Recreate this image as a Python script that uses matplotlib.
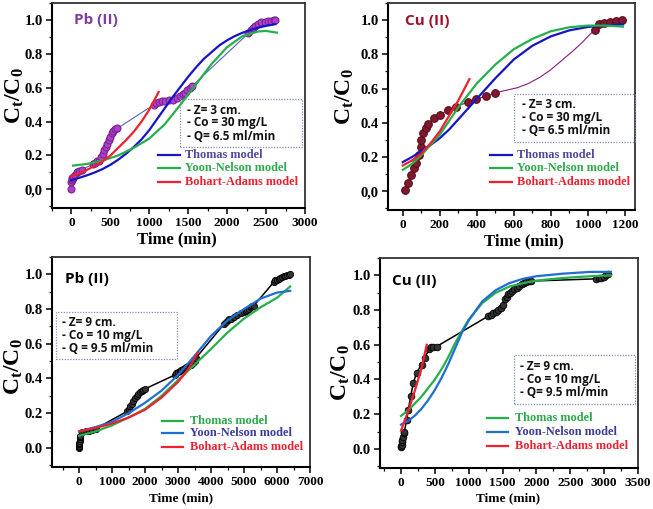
import numpy as np
import matplotlib
matplotlib.use("Agg")
import matplotlib.pyplot as plt
from matplotlib.patches import Rectangle
from matplotlib.lines import Line2D
from matplotlib.ticker import MultipleLocator

plt.rcParams['mathtext.fontset'] = 'custom'
plt.rcParams['mathtext.rm'] = 'Liberation Serif'
plt.rcParams['mathtext.it'] = 'Liberation Serif:italic'
plt.rcParams['mathtext.bf'] = 'Liberation Serif:bold'

SERIF = 'Liberation Serif'
SANS = 'Open Sans'

# ---------------- data: Pb(II), Z = 3 cm ----------------
pb3_t = [0, 0, 5, 10, 15, 20, 40, 70, 100, 130, 280, 300, 330, 350, 380, 400, 420, 440,
         460, 480, 500, 520, 540, 560, 590, 1060, 1090, 1120, 1160, 1200, 1250, 1300,
         1350, 1400, 1430, 1460, 1490, 1520, 1550, 2270, 2300, 2330, 2360, 2400, 2440,
         2480, 2520, 2560, 2600, 2620]
pb3_c = [0.0, 0.045, 0.055, 0.065, 0.07, 0.075, 0.085, 0.10, 0.11, 0.115, 0.15, 0.155,
         0.165, 0.17, 0.19, 0.21, 0.23, 0.25, 0.27, 0.29, 0.31, 0.33, 0.345, 0.355, 0.36,
         0.50, 0.51, 0.515, 0.52, 0.52, 0.525, 0.53, 0.54, 0.55, 0.56, 0.57, 0.585, 0.60,
         0.61, 0.92, 0.94, 0.955, 0.965, 0.975, 0.985, 0.99, 0.995, 0.995, 1.0, 1.0]
pb3_thomas_t = [0, 100, 200, 300, 400, 500, 600, 700, 800, 900, 1000, 1100, 1200, 1300,
                1400, 1500, 1600, 1700, 1800, 1900, 2000, 2100, 2200, 2300, 2400, 2500, 2620]
pb3_thomas_c = [0.055, 0.068, 0.083, 0.10, 0.12, 0.145, 0.175, 0.21, 0.25, 0.295, 0.35,
                0.415, 0.48, 0.545, 0.605, 0.665, 0.72, 0.77, 0.81, 0.85, 0.88, 0.905, 0.925,
                0.94, 0.955, 0.965, 0.975]
pb3_yn_t = [20, 200, 400, 600, 800, 1000, 1200, 1400, 1600, 1800, 2000, 2200, 2400, 2500, 2640]
pb3_yn_c = [0.14, 0.15, 0.17, 0.20, 0.245, 0.30, 0.385, 0.50, 0.62, 0.74, 0.84, 0.905,
            0.932, 0.935, 0.925]
pb3_ba_t = [0, 100, 200, 300, 400, 500, 600, 700, 800, 900, 1000, 1120]
pb3_ba_c = [0.075, 0.095, 0.115, 0.14, 0.165, 0.20, 0.245, 0.29, 0.34, 0.40, 0.47, 0.575]

# ---------------- data: Cu(II), Z = 3 cm ----------------
cu3_t = [14, 27, 45, 60, 72, 85, 96, 100, 108, 123, 135, 168, 199, 244, 289, 352, 397,
         451, 500, 1040, 1060, 1090, 1120, 1150, 1185]
cu3_c = [0.005, 0.05, 0.095, 0.135, 0.165, 0.21, 0.26, 0.30, 0.34, 0.37, 0.39, 0.43,
         0.445, 0.475, 0.495, 0.52, 0.54, 0.555, 0.575, 0.945, 0.975, 0.985, 0.99, 0.995, 1.0]
cu3_link_t = [500, 560, 620, 680, 740, 800, 860, 920, 970, 1010, 1040]
cu3_link_c = [0.575, 0.59, 0.605, 0.63, 0.665, 0.71, 0.765, 0.82, 0.87, 0.915, 0.945]
cu3_thomas_t = [0, 50, 100, 150, 200, 250, 300, 350, 400, 500, 600, 700, 800, 900, 1000, 1100, 1190]
cu3_thomas_c = [0.17, 0.20, 0.235, 0.27, 0.31, 0.36, 0.42, 0.48, 0.54, 0.66, 0.77, 0.85,
                0.905, 0.94, 0.96, 0.97, 0.975]
cu3_yn_t = [0, 50, 100, 150, 200, 250, 300, 350, 400, 500, 600, 700, 800, 900, 1000, 1100, 1190]
cu3_yn_c = [0.125, 0.16, 0.21, 0.27, 0.33, 0.41, 0.49, 0.56, 0.63, 0.74, 0.83, 0.89,
            0.935, 0.958, 0.968, 0.968, 0.962]
cu3_ba_t = [0, 50, 100, 150, 200, 250, 300, 360]
cu3_ba_c = [0.15, 0.18, 0.22, 0.28, 0.35, 0.44, 0.53, 0.655]

# ---------------- data: Pb(II), Z = 9 cm ----------------
pb9_t = [0, 0, 5, 10, 10, 15, 20, 25, 30, 40, 100, 200, 300, 400, 500, 1450, 1500, 1550,
         1600, 1650, 1700, 1750, 1800, 1850, 1900, 1950, 2000, 2900, 2950, 3000, 3050, 3100,
         3150, 3200, 3250, 3300, 3350, 3400, 3450, 3500, 3550, 4400, 4450, 4500, 4550, 4600,
         4700, 4800, 4900, 5000, 5050, 5100, 5150, 5200, 5250, 5300, 5900, 5950, 6000, 6050,
         6100, 6150, 6200, 6250, 6300, 6350, 6400]
pb9_c = [0.0, 0.005, 0.01, 0.02, 0.03, 0.04, 0.05, 0.06, 0.065, 0.07, 0.09, 0.095, 0.10,
         0.105, 0.11, 0.21, 0.225, 0.24, 0.255, 0.27, 0.285, 0.30, 0.31, 0.32, 0.33, 0.335,
         0.34, 0.42, 0.43, 0.44, 0.445, 0.45, 0.455, 0.46, 0.465, 0.47, 0.475, 0.48, 0.49,
         0.50, 0.52, 0.715, 0.725, 0.735, 0.74, 0.745, 0.755, 0.765, 0.775, 0.785, 0.79,
         0.795, 0.80, 0.81, 0.815, 0.82, 0.955, 0.965, 0.97, 0.975, 0.98, 0.985, 0.99, 0.99,
         0.995, 0.995, 1.0]
pb9_thomas_t = [0, 500, 1000, 1500, 2000, 2500, 3000, 3500, 4000, 4500, 5000, 5500, 6000, 6400]
pb9_thomas_c = [0.07, 0.095, 0.13, 0.175, 0.225, 0.30, 0.39, 0.48, 0.57, 0.665, 0.745,
                0.81, 0.865, 0.93]
pb9_yn_t = [0, 500, 1000, 1500, 2000, 2500, 3000, 3500, 4000, 4500, 5000, 5500, 6000, 6400]
pb9_yn_c = [0.095, 0.12, 0.15, 0.20, 0.26, 0.33, 0.42, 0.53, 0.645, 0.735, 0.80, 0.86,
            0.895, 0.905]
pb9_ba_t = [0, 500, 1000, 1500, 2000, 2500, 3000, 3300, 3600]
pb9_ba_c = [0.095, 0.115, 0.14, 0.175, 0.22, 0.29, 0.38, 0.45, 0.55]

# ---------------- data: Cu(II), Z = 9 cm ----------------
cu9_t = [0, 5, 10, 15, 20, 30, 40, 50, 84, 108, 143, 182, 231, 305, 354, 413, 450, 477,
         526, 1288, 1330, 1362, 1400, 1436, 1470, 1500, 1534, 1560, 1583, 1610, 1632, 1670,
         1706, 1740, 1780, 1820, 1853, 1890, 1927, 2886, 2930, 2960, 3000, 3033, 3060]
cu9_c = [0.01, 0.015, 0.02, 0.04, 0.05, 0.07, 0.09, 0.10, 0.168, 0.225, 0.302, 0.38, 0.44,
         0.486, 0.524, 0.576, 0.585, 0.59, 0.59, 0.765, 0.77, 0.784, 0.79, 0.803, 0.81,
         0.827, 0.861, 0.875, 0.89, 0.90, 0.91, 0.92, 0.93, 0.94, 0.948, 0.955, 0.963,
         0.965, 0.967, 0.98, 0.982, 0.986, 0.99, 1.0, 1.005]
cu9_thomas_t = [0, 100, 200, 300, 400, 500, 600, 700, 800, 900, 1000, 1200, 1400, 1600,
                1800, 2000, 2400, 2800, 3100]
cu9_thomas_c = [0.19, 0.22, 0.26, 0.30, 0.35, 0.40, 0.46, 0.53, 0.61, 0.68, 0.745, 0.84,
                0.90, 0.935, 0.955, 0.97, 0.985, 0.995, 1.0]
cu9_yn_t = [0, 100, 200, 300, 400, 500, 600, 700, 800, 900, 1000, 1200, 1400, 1600, 1800,
            2000, 2400, 2800, 3100]
cu9_yn_c = [0.14, 0.16, 0.19, 0.23, 0.28, 0.34, 0.41, 0.49, 0.58, 0.67, 0.74, 0.85, 0.915,
            0.955, 0.98, 0.995, 1.01, 1.02, 1.02]
cu9_ba_t = [0, 100, 200, 300, 380]
cu9_ba_c = [0.105, 0.21, 0.33, 0.46, 0.60]

ytick_vals = [0.0, 0.2, 0.4, 0.6, 0.8, 1.0]
ytick_top = ['0,0', '0.2', '0.4', '0.6', '0.8', '1.0']
ytick_bottom = ['0.0', '0.2', '0.4', '0.6', '0.8', '1.0']
model_names = ['Thomas model', 'Yoon-Nelson model', 'Bohart-Adams model']

W, H = 653, 509
fig = plt.figure(figsize=(W / 100, H / 100), dpi=100)


def px_axes(l, t, r, b):
    return fig.add_axes([l / W, 1 - b / H, (r - l) / W, (b - t) / H])


def fx(x):
    return x / W


def fy(y):
    return 1 - y / H


def style_axes(ax, xlim, xmaj, xlabel_size, ylabels, xlab_pos, ylab_pos):
    ax.set_xlim(*xlim)
    ax.set_ylim(-0.11, 1.1)
    ax.xaxis.set_major_locator(MultipleLocator(xmaj))
    ax.xaxis.set_minor_locator(MultipleLocator(xmaj / 2))
    ax.set_yticks(ytick_vals)
    ax.set_yticklabels(ylabels)
    ax.yaxis.set_minor_locator(MultipleLocator(0.1))
    ax.tick_params(which='major', direction='out', length=4, width=1.1, pad=2.5)
    ax.tick_params(axis='x', labelsize=9.5)
    ax.tick_params(axis='y', labelsize=10.5)
    ax.tick_params(which='minor', direction='out', length=2.5, width=0.9)
    for lab in ax.get_xticklabels() + ax.get_yticklabels():
        lab.set_fontfamily(SERIF)
        lab.set_fontweight('bold')
    for s in ['left', 'bottom']:
        ax.spines[s].set_linewidth(1.5)
        ax.spines[s].set_color('black')
    for s in ['top', 'right']:
        ax.spines[s].set_linewidth(1.3)
        ax.spines[s].set_color('#333333')
    ax.set_xlabel('Time (min)', fontfamily=SERIF, fontweight='bold', fontsize=xlabel_size)
    ax.set_ylabel(r'$\mathbf{C_t/C_0}$', fontsize=17)
    ax.xaxis.label.set_va('center')
    ax.yaxis.label.set_va('center')
    ax.xaxis.set_label_coords(*xlab_pos)
    ax.yaxis.set_label_coords(*ylab_pos)


def info_box(box, lines, tx, ty):
    l, t, r, b = box
    fig.patches.append(Rectangle((fx(l), fy(b)), (r - l) / W, (b - t) / H,
                                 transform=fig.transFigure, fill=False,
                                 edgecolor='#7f8fb5', linestyle=(0, (1, 1.2)), lw=0.9))
    for line, y in zip(lines, ty):
        fig.text(fx(tx), fy(y), line, fontfamily=SANS, fontweight='bold', fontsize=8.5,
                 va='center', ha='left', color='#111111')


def legend_rows(x0, x1, xt, ys, line_colors, text_colors):
    for name, y, lc, tc in zip(model_names, ys, line_colors, text_colors):
        fig.lines.append(Line2D([fx(x0), fx(x1)], [fy(y), fy(y)], transform=fig.transFigure,
                                color=lc, lw=1.6))
        fig.text(fx(xt), fy(y), name, fontfamily=SERIF, fontweight='bold', fontsize=8.8,
                 va='center', ha='left', color=tc)


BLUE = '#1515c8'
GREEN = '#25b04c'
RED = '#f0202c'
BLUE2 = '#1f6ed4'

# ---- panel 1: Pb(II) Z=3 ----
ax1 = px_axes(52, 3, 305, 208)
ax1.plot(pb3_t, pb3_c, color='#5a64b4', lw=0.8, zorder=2)
ax1.plot(pb3_t, pb3_c, 'o', ms=5, mfc='#b040c8', mec='#7a2494', mew=0.8, zorder=3)
ax1.plot(pb3_thomas_t, pb3_thomas_c, color=BLUE, lw=1.6, zorder=4)
ax1.plot(pb3_yn_t, pb3_yn_c, color=GREEN, lw=1.6, zorder=4)
ax1.plot(pb3_ba_t, pb3_ba_c, color=RED, lw=1.6, zorder=4)
style_axes(ax1, (-250, 3000), 500, 12, ytick_top, (0.494, -0.155), (-0.15, 0.55))
ax1.text(0.085, 0.915, 'Pb (II)', transform=ax1.transAxes, fontfamily=SANS,
         fontweight='bold', fontsize=11, color='#7b3f9e', va='center')
info_box((180, 99, 302, 147), ['- Z= 3 cm.', '- Co = 30 mg/L', '- Q= 6.5 ml/min'],
         187, [110, 123, 136])
legend_rows(158, 180, 185, [155, 168, 182], [BLUE, GREEN, RED],
            ['#4a4a9a', '#2aaa4a', '#ee2030'])

# ---- panel 2: Cu(II) Z=3 ----
ax2 = px_axes(388, 3, 635, 210)
ax2.plot(cu3_t[:19], cu3_c[:19], color='#8a1a7a', lw=0.8, zorder=2)
ax2.plot(cu3_link_t, cu3_link_c, color='#8a1a7a', lw=0.8, zorder=2)
ax2.plot(cu3_t[19:], cu3_c[19:], color='#8a1a7a', lw=0.8, zorder=2)
ax2.plot(cu3_t, cu3_c, 'o', ms=5.5, mfc='#82182c', mec='#5a0c1a', mew=0.8, zorder=3)
ax2.plot(cu3_thomas_t, cu3_thomas_c, color=BLUE, lw=1.6, zorder=4)
ax2.plot(cu3_yn_t, cu3_yn_c, color=GREEN, lw=1.6, zorder=4)
ax2.plot(cu3_ba_t, cu3_ba_c, color=RED, lw=1.6, zorder=4)
style_axes(ax2, (-80, 1255), 200, 12, ytick_top, (0.55, -0.15), (-0.18, 0.546))
ax2.text(0.07, 0.915, 'Cu (II)', transform=ax2.transAxes, fontfamily=SANS,
         fontweight='bold', fontsize=11, color='#a0102a', va='center')
info_box((514, 94, 635, 142), ['- Z= 3 cm.', '- Co = 30 mg/L', '- Q= 6.5 ml/min'],
         522, [105, 118, 131])
legend_rows(490, 512, 517, [155, 168, 182], [BLUE, GREEN, RED],
            ['#4a4a9a', '#2aaa4a', '#ee2030'])

# ---- panel 3: Pb(II) Z=9 ----
ax3 = px_axes(52, 257, 310, 467)
ax3.plot(pb9_t, pb9_c, color='black', lw=1.1, zorder=2)
ax3.plot(pb9_t, pb9_c, 'o', ms=4.5, mfc='#333333', mec='black', mew=0.6, zorder=3)
ax3.plot(pb9_thomas_t, pb9_thomas_c, color=GREEN, lw=1.6, zorder=4)
ax3.plot(pb9_yn_t, pb9_yn_c, color=BLUE2, lw=1.6, zorder=4)
ax3.plot(pb9_ba_t, pb9_ba_c, color=RED, lw=1.6, zorder=4)
style_axes(ax3, (-820, 7000), 1000, 9.5, ytick_bottom, (0.5, -0.148), (-0.15, 0.476))
ax3.text(0.05, 0.895, 'Pb (II)', transform=ax3.transAxes, fontfamily=SANS,
         fontweight='bold', fontsize=11, color='black', va='center')
info_box((56, 312, 177, 359), ['- Z= 9 cm.', '- Co = 10 mg/L', '- Q = 9.5 ml/min'],
         62, [323, 336, 349])
legend_rows(162, 183, 190, [421, 433, 447], [GREEN, BLUE2, RED],
            ['#2aaa4a', '#3a3a9a', '#ee2030'])

# ---- panel 4: Cu(II) Z=9 ----
ax4 = px_axes(380, 258, 638, 468)
ax4.plot(cu9_t, cu9_c, color='black', lw=1.1, zorder=2)
ax4.plot(cu9_t, cu9_c, 'o', ms=4.8, mfc='#333333', mec='black', mew=0.6, zorder=3)
ax4.plot(cu9_thomas_t, cu9_thomas_c, color=GREEN, lw=1.6, zorder=4)
ax4.plot(cu9_yn_t, cu9_yn_c, color=BLUE2, lw=1.6, zorder=4)
ax4.plot(cu9_ba_t, cu9_ba_c, color=RED, lw=1.6, zorder=4)
style_axes(ax4, (-310, 3500), 500, 9.5, ytick_bottom, (0.496, -0.143), (-0.155, 0.452))
ax4.text(0.045, 0.89, 'Cu (II)', transform=ax4.transAxes, fontfamily=SANS,
         fontweight='bold', fontsize=11, color='black', va='center')
info_box((514, 355, 635, 404), ['- Z= 9 cm.', '- Co = 10 mg/L', '- Q= 9.5 ml/min'],
         520, [367, 380, 393])
legend_rows(487, 508, 515, [418, 432, 446], [GREEN, BLUE2, RED],
            ['#2aaa4a', '#3a3a9a', '#ee2030'])

fig.savefig('out.png', dpi=100)
